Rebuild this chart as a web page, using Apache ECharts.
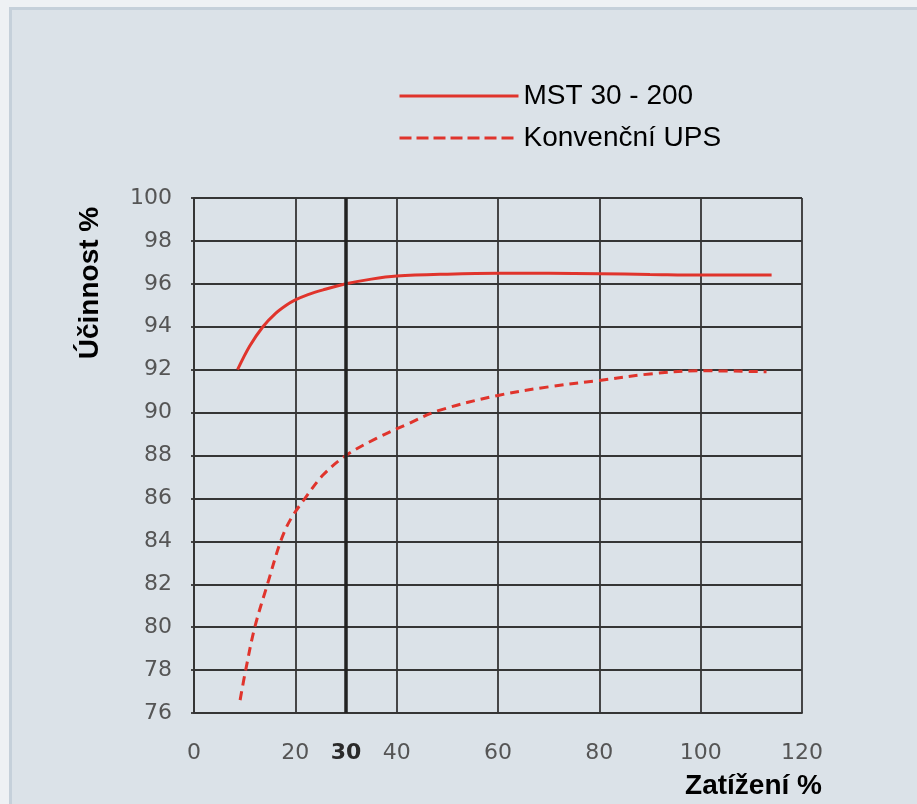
<!DOCTYPE html>
<html>
<head>
<meta charset="utf-8">
<script src="https://cdn.jsdelivr.net/npm/echarts@6/dist/echarts.min.js"></script>
<style>
  html, body { margin: 0; padding: 0; background: #eef1f4; width: 917px; height: 804px; overflow: hidden; }
  #frame { position: absolute; left: 9px; top: 7px; right: 0; bottom: 0; background: #dbe2e8;
           border-left: 3px solid #c5d0da; border-top: 3px solid #c5d0da; }
  #chart { position: absolute; left: 0; top: 0; width: 917px; height: 804px; }
</style>
</head>
<body>
<div id="frame"></div>
<div id="chart"></div>
<script>
// Data
const seriesNames = ['MST 30 - 200', 'Konvenční UPS'];
const xTickLabels = [0, 20, 30, 40, 60, 80, 100, 120];
const highlightTick = 30;

const mstLoad = [8.6, 11, 13.6, 16, 18.2, 20, 22.5, 25.5, 30, 35, 40, 50, 60, 70, 80, 90, 100, 114];
const mstEff  = [92.0, 93.1, 94.0, 94.6, 95.0, 95.25, 95.5, 95.72, 96.0, 96.22, 96.36, 96.45, 96.49, 96.49, 96.47, 96.44, 96.41, 96.41];

const convLoad = [9.1, 10.2, 12, 14.5, 17.1, 19, 21.9, 25.5, 30, 36, 42, 48.4, 60, 70, 80, 90, 100, 113];
const convEff  = [76.6, 78, 80, 82, 84, 85, 86, 87.1, 88.0, 88.8, 89.45, 90.1, 90.8, 91.2, 91.5, 91.8, 91.95, 91.9];

const toPairs = (xs, ys) => xs.map((x, i) => [x, ys[i]]);

const gridColor = '#353535';
const red = '#e0342c';
const tickFont = 'DejaVu Sans';

const chart = echarts.init(document.getElementById('chart'), null, { renderer: 'canvas' });
chart.setOption({
  backgroundColor: 'transparent',
  animation: false,
  grid: { left: 194, right: 115, top: 198, bottom: 91, containLabel: false },
  legend: {
    orient: 'vertical',
    left: 393,
    top: 77,
    itemWidth: 119,
    itemHeight: 14,
    itemGap: 14,
    itemStyle: { opacity: 0 },
    lineStyle: { width: 3 },
    textStyle: { fontFamily: 'Liberation Sans', fontSize: 28, color: '#000' },
    data: [
      { name: seriesNames[0] },
      { name: seriesNames[1], lineStyle: { width: 3, type: [12, 5] } }
    ]
  },
  xAxis: {
    type: 'value',
    min: 0, max: 120, interval: 20,
    axisLine: { show: true, lineStyle: { color: gridColor, width: 1.8 } },
    axisTick: { show: false },
    splitLine: { show: true, lineStyle: { color: gridColor, width: 1.8 } },
    axisLabel: {
      customValues: xTickLabels,
      margin: 29,
      fontFamily: tickFont, fontSize: 22, color: '#555',
      formatter: v => v === highlightTick ? '{b|' + v + '}' : String(v),
      rich: { b: { fontFamily: tickFont, fontSize: 22, fontWeight: 'bold', color: '#2a2a2a' } }
    }
  },
  yAxis: {
    type: 'value',
    min: 76, max: 100, interval: 2,
    axisLine: { show: true, lineStyle: { color: gridColor, width: 1.8 } },
    axisTick: { show: true, length: 3, lineStyle: { color: gridColor, width: 1.8 } },
    splitLine: { show: true, lineStyle: { color: gridColor, width: 1.8 } },
    axisLabel: { margin: 22, fontFamily: tickFont, fontSize: 22, color: '#555' }
  },
  graphic: [
    { type: 'text', x: 90, y: 283, rotation: Math.PI / 2,
      style: { text: 'Účinnost %', font: 'bold 28px "Liberation Sans"', fill: '#000',
               align: 'center', verticalAlign: 'middle' } },
    { type: 'text', x: 822, y: 786,
      style: { text: 'Zatížení %', font: 'bold 28px "Liberation Sans"', fill: '#000',
               align: 'right', verticalAlign: 'middle' } }
  ],
  series: [
    {
      name: seriesNames[0], type: 'line', smooth: 0.35,
      showSymbol: false, symbol: 'none',
      data: toPairs(mstLoad, mstEff),
      lineStyle: { color: red, width: 3 }, itemStyle: { color: red },
      markLine: {
        silent: true, symbol: 'none', label: { show: false },
        lineStyle: { color: '#222', width: 3.5, type: 'solid' },
        data: [{ xAxis: highlightTick }]
      },
      z: 3
    },
    {
      name: seriesNames[1], type: 'line', smooth: 0.35,
      showSymbol: false, symbol: 'none',
      data: toPairs(convLoad, convEff),
      lineStyle: { color: red, width: 3, type: [9, 6] }, itemStyle: { color: red },
      z: 3
    }
  ]
});
</script>
</body>
</html>
